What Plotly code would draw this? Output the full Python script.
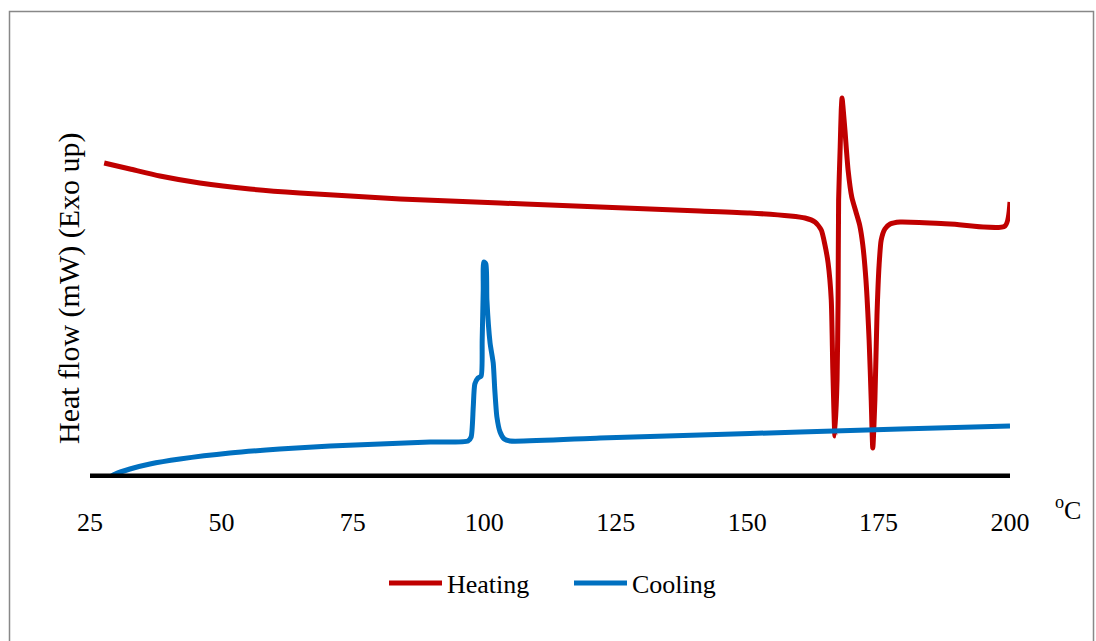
import plotly.graph_objects as go

# DSC thermogram: temperature (°C) vs heat flow (arbitrary mW scale, exo up)
heating_temp = [27.7, 32.6, 38.3, 45.9, 55.4, 64.9, 74.5, 84.0, 93.5, 103.0,
                112.5, 122.0, 131.5, 141.0, 150.5, 158.2, 161.0, 162.9, 164.1, 164.8,
                165.4, 166.0, 166.3, 166.7, 167.1, 167.3, 167.4, 167.7, 167.9, 168.05,
                168.2, 168.6, 169.2, 169.9, 170.7, 171.4, 172.0, 172.6, 173.2, 173.6,
                173.9, 174.3, 174.7, 175.1, 175.5, 176.2, 177.2, 179.1, 188.6, 199.05,
                200.0]
heating_flow = [3.15, 3.09, 3.02, 2.95, 2.89, 2.85, 2.82, 2.79, 2.77, 2.75,
                2.73, 2.71, 2.69, 2.67, 2.65, 2.62, 2.60, 2.56, 2.48, 2.33,
                2.15, 1.78, 1.08, 0.42, 0.98, 1.78, 2.78, 3.31, 3.68, 3.80,
                3.73, 3.48, 3.08, 2.81, 2.66, 2.53, 2.33, 1.98, 1.38, 0.78,
                0.30, 0.78, 1.63, 2.13, 2.38, 2.49, 2.54, 2.56, 2.54, 2.52,
                2.76]

cooling_temp = [28.4, 29.8, 32.6, 36.4, 42.1, 51.6, 61.1, 70.7, 80.2, 89.7,
                96.9, 97.5, 97.9, 98.2, 98.8, 99.4, 99.6, 99.8, 99.9, 100.3,
                100.5, 101.1, 101.7, 102.0, 102.4, 103.0, 103.8, 104.9, 122.0, 141.0,
                160.1, 179.1, 200.0]
cooling_flow = [0.00, 0.04, 0.09, 0.14, 0.19, 0.25, 0.29, 0.32, 0.34, 0.36,
                0.37, 0.41, 0.71, 0.94, 1.00, 1.02, 1.38, 1.88, 2.16, 2.14,
                1.78, 1.35, 1.15, 0.88, 0.61, 0.46, 0.39, 0.37, 0.40, 0.43,
                0.46, 0.49, 0.52]

x_ticks = [25, 50, 75, 100, 125, 150, 175, 200]

serif = "Liberation Serif, Times New Roman, serif"

fig = go.Figure()
fig.add_trace(go.Scatter(x=heating_temp, y=heating_flow, mode="lines", name="Heating",
                         line=dict(color="#C00000", width=5, shape="spline", smoothing=0.6)))
fig.add_trace(go.Scatter(x=cooling_temp, y=cooling_flow, mode="lines", name="Cooling",
                         line=dict(color="#0070C0", width=5, shape="spline", smoothing=0.6)))

W, H = 1096, 641
L, R, T, B = 90, 86, 40, 163
pw, ph = W - L - R, H - T - B

def px(xp):
    return (xp - L) / pw

def py(yp):
    return (H - B - yp) / ph

shapes = [
    # thick baseline along the temperature axis
    dict(type="line", xref="x", yref="y", x0=25, x1=200.3, y0=0, y1=0,
         line=dict(color="black", width=9), layer="above"),
    # chart frame
    dict(type="rect", xref="paper", yref="paper",
         x0=px(9.5), x1=px(1093.5), y0=py(650), y1=py(11.5),
         line=dict(color="#888888", width=1.5), layer="below"),
]

annotations = [
    dict(text="Heat flow (mW) (Exo up)", xref="paper", yref="paper",
         x=px(69), y=py(288), textangle=-90, showarrow=False,
         xanchor="center", yanchor="middle",
         font=dict(family=serif, size=30, color="black")),
    dict(text="<sup>o</sup>C", xref="paper", yref="paper",
         x=px(1053), y=py(508), showarrow=False,
         xanchor="left", yanchor="middle",
         font=dict(family=serif, size=26, color="black")),
]

fig.update_layout(
    width=W, height=H,
    margin=dict(l=L, r=R, t=T, b=B),
    paper_bgcolor="white", plot_bgcolor="white",
    font=dict(family=serif, size=26, color="black"),
    showlegend=True,
    legend=dict(orientation="h", x=px(384), xanchor="left", y=py(583), yanchor="middle",
                font=dict(family=serif, size=26, color="black"),
                itemwidth=53, entrywidth=117, entrywidthmode="pixels",
                bgcolor="rgba(0,0,0,0)"),
    xaxis=dict(range=[25, 200], tickvals=x_ticks, ticktext=[str(v) for v in x_ticks],
               showgrid=False, zeroline=False, showline=False, ticks="",
               ticklabelstandoff=26, tickfont=dict(family=serif, size=26, color="black")),
    yaxis=dict(range=[0, ph / 100], showgrid=False, zeroline=False, showline=False,
               showticklabels=False, ticks=""),
    shapes=shapes,
    annotations=annotations,
)

fig.write_html("out.html")
